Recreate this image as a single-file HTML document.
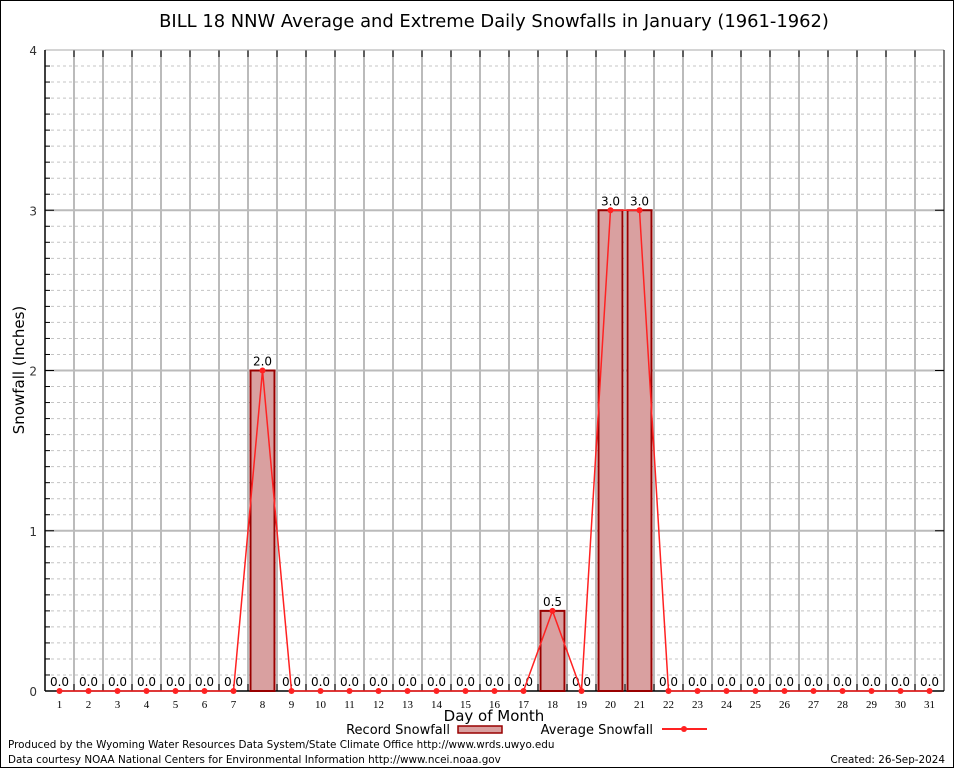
<!DOCTYPE html>
<html><head><meta charset="utf-8"><style>
body{margin:0;background:#fff;}
svg{display:block;font-family:"DejaVu Sans","Liberation Sans",sans-serif;}
</style></head><body>
<svg id="c" width="954" height="768" xmlns="http://www.w3.org/2000/svg">
<rect x="0.5" y="0.5" width="953" height="767" fill="#fff" stroke="#000"/>
<text x="494" y="27" font-size="17.9" text-anchor="middle">BILL 18 NNW Average and Extreme Daily Snowfalls in January (1961-1962)</text>
<g id="grid"></g><g id="marks"></g>
<text x="24" y="370" font-size="15" text-anchor="middle" transform="rotate(-90 24 370)">Snowfall (Inches)</text>
<text x="494" y="721" font-size="15" text-anchor="middle">Day of Month</text>
<g>
<text x="450" y="734" font-size="13" text-anchor="end">Record Snowfall</text>
<rect x="458" y="726" width="44" height="7" fill="#d9a0a0" stroke="#900" stroke-width="1.5"/>
<text x="653" y="734" font-size="13" text-anchor="end">Average Snowfall</text>
<line x1="662" y1="729" x2="707" y2="729" stroke="#f22" stroke-width="2"/>
<circle cx="684" cy="729" r="3" fill="#f22"/>
</g>
<text x="8" y="748" font-size="10.4">Produced by the Wyoming Water Resources Data System/State Climate Office http://www.wrds.uwyo.edu</text>
<text x="8" y="763" font-size="10.4">Data courtesy NOAA National Centers for Environmental Information http://www.ncei.noaa.gov</text>
<text x="945" y="763" font-size="10.4" text-anchor="end">Created: 26-Sep-2024</text>
</svg>
<script>
const days=[1,2,3,4,5,6,7,8,9,10,11,12,13,14,15,16,17,18,19,20,21,22,23,24,25,26,27,28,29,30,31];
const recordSnow=[0,0,0,0,0,0,0,2,0,0,0,0,0,0,0,0,0,0.5,0,3,3,0,0,0,0,0,0,0,0,0,0];
const avgSnow=[0,0,0,0,0,0,0,2,0,0,0,0,0,0,0,0,0,0.5,0,3,3,0,0,0,0,0,0,0,0,0,0];
const yTicks=[0,1,2,3,4];
const NS='http://www.w3.org/2000/svg';
const L=45,R=944,T=50,B=691,yMax=4;
const xs=d=>L+(d-0.5)*(R-L)/31;
const ys=v=>B-v*(B-T)/yMax;
function mk(p,t,a){const e=document.createElementNS(NS,t);for(const k in a)e.setAttribute(k,a[k]);p.appendChild(e);return e;}
const g=document.getElementById('grid'),m=document.getElementById('marks');
for(let i=1;i<yMax*10;i++){if(i%10==0)continue;const y=ys(i/10);
const l=mk(g,'line',{x1:L,x2:R,y1:y,y2:y,stroke:'#c4c4c4','stroke-dasharray':'3,3'});


mk(g,'line',{x1:L,x2:L+5,y1:y,y2:y,stroke:'#000'});}
for(let d=1;d<31;d++){const x=xs(d+0.5);
const l=mk(g,'line',{x1:x,x2:x,y1:T,y2:B,stroke:'#bbb','stroke-width':2});


mk(g,'line',{x1:x,x2:x,y1:T,y2:T+7,stroke:'#000'});mk(g,'line',{x1:x,x2:x,y1:B,y2:B-7,stroke:'#000'});}
yTicks.forEach(v=>{const y=ys(v);
if(v>0&&v<yMax){const l=mk(g,'line',{x1:L,x2:R,y1:y,y2:y,stroke:'#bbb','stroke-width':2});


mk(g,'line',{x1:L,x2:L+9,y1:y,y2:y,stroke:'#000'});mk(g,'line',{x1:R,x2:R-9,y1:y,y2:y,stroke:'#000'});}
const t=mk(g,'text',{x:37,y:y+5,'font-size':12,'text-anchor':'end',fill:'#333'});t.textContent=v;

});
mk(g,'line',{x1:L,x2:R,y1:T,y2:T,stroke:'#aaa'});
mk(g,'line',{x1:R,x2:R,y1:T,y2:B,stroke:'#000'});
mk(g,'line',{x1:L,x2:L,y1:T,y2:B,stroke:'#000','stroke-width':1.5});
mk(g,'line',{x1:L,x2:R,y1:B,y2:B,stroke:'#000','stroke-width':1.5});
days.forEach((d,i)=>{const x=xs(d);
const t=mk(m,'text',{x:x,y:B+17,'font-size':11,'text-anchor':'middle','font-family':'Liberation Serif,serif'});t.textContent=d;


const v=recordSnow[i];
if(v>0){const r=mk(m,'rect',{x:x-12,y:ys(v),width:24,height:B-ys(v),fill:'#d9a0a0',stroke:'#900','stroke-width':2});

}
const lb=mk(m,'text',{x:x,y:ys(v)-5,'font-size':12,'text-anchor':'middle'});lb.textContent=v.toFixed(1);

});
const pl=mk(m,'polyline',{points:days.map((d,i)=>xs(d)+','+ys(avgSnow[i])).join(' '),fill:'none',stroke:'#f22','stroke-width':1.5});


days.forEach((d,i)=>{const c=mk(m,'circle',{cx:xs(d),cy:ys(avgSnow[i]),r:3,fill:'#f22'});

});
</script>
</body></html>
